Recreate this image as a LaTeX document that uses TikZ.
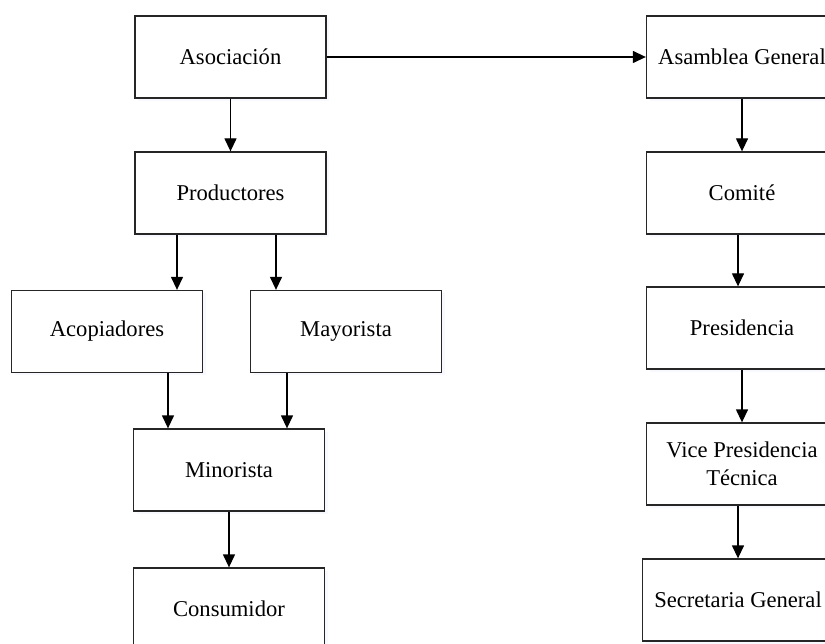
\documentclass[tikz,border=0pt]{standalone}
\usepackage{fontspec}
\setmainfont{Liberation Serif}
\usetikzlibrary{arrows.meta,shadows}
\begin{document}
\begin{tikzpicture}[x=1pt,y=-1pt,
  box/.style={draw=black!85,line width=1.3pt,fill=white,minimum width=191pt,minimum height=82pt,
    align=center,inner sep=0pt,font=\fontsize{22.6}{28}\selectfont,
    drop shadow={opacity=0.08,shadow xshift=3pt,shadow yshift=-3pt,fill=blue!30}},
  conn/.style={line width=1.3pt,-{Triangle[length=13pt,width=12pt]}}]
\clip (0,0) rectangle (825,644);
\fill[white] (0,0) rectangle (825,644);
\node[box] (asoc) at (230.5,57) {Asociación};
\node[box] (prod) at (230.5,193) {Productores};
\node[box] (acop) at (107,331.5) {Acopiadores};
\node[box] (mayo) at (346,331.5) {Mayorista};
\node[box] (mino) at (229,470) {Minorista};
\node[box] (cons) at (229,609) {Consumidor};
\node[box] (asam) at (742,57) {Asamblea General};
\node[box] (comi) at (742,193) {Comité};
\node[box] (pres) at (742,328) {Presidencia};
\node[box] (vice) at (742,464) {Vice Presidencia\\Técnica};
\node[box] (secr) at (738,600) {Secretaria General};
\draw[conn] (asoc) -- (asam);
\draw[conn] (asoc) -- (prod);
\draw[conn] ([xshift=-53.5pt]prod.south) -- ([xshift=70pt]acop.north);
\draw[conn] ([xshift=45.5pt]prod.south) -- ([xshift=-70pt]mayo.north);
\draw[conn] ([xshift=61pt]acop.south) -- ([xshift=-61pt]mino.north);
\draw[conn] ([xshift=-59pt]mayo.south) -- ([xshift=58pt]mino.north);
\draw[conn] (mino) -- (cons);
\draw[conn] (asam) -- (comi);
\draw[conn] ([xshift=-4pt]comi.south) -- ([xshift=-4pt]pres.north);
\draw[conn] (pres) -- (vice);
\draw[conn] ([xshift=-4pt]vice.south) -- (secr.north);
\end{tikzpicture}
\end{document}
